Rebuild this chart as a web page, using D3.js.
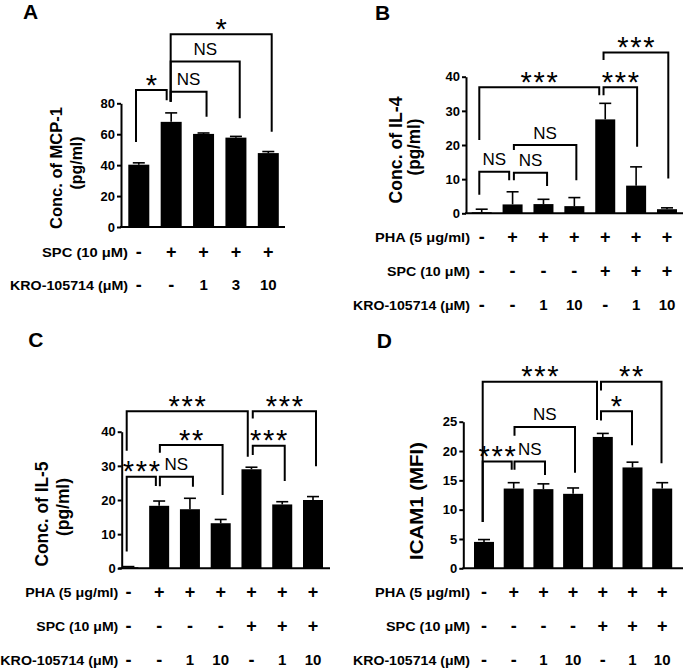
<!DOCTYPE html>
<html><head><meta charset="utf-8">
<script src="https://cdn.jsdelivr.net/npm/d3@7"></script>
<style>
body{margin:0;background:#fff}
svg{display:block}
text{font-family:"Liberation Sans",Arial,Helvetica,sans-serif}
</style>
</head><body>
<svg id="chart" width="685" height="670"></svg>
<script>
// ---------------- data ----------------
// Panel A : MCP-1
const aSPC = ['-','+','+','+','+'];
const aKRO = ['-','-','1','3','10'];
const mcp1Mean = [40.3, 68.0, 60.2, 57.8, 47.8];
const mcp1Sem  = [1.2, 5.8, 0.6, 0.8, 1.0];
const mcp1Ticks = [0, 20, 40, 60, 80];

// Panels B-D : treatment rows
const pha = ['-','+','+','+','+','+','+'];
const spc = ['-','-','-','-','+','+','+'];
const kro = ['-','-','1','10','-','1','10'];

const il4Mean = [0.3, 2.6, 2.7, 2.1, 27.5, 8.1, 1.2];
const il4Sem  = [0.9, 3.7, 1.4, 2.5, 4.7, 5.5, 0.4];
const il4Ticks = [0, 10, 20, 30, 40];

const il5Mean = [0.3, 18.3, 17.3, 13.2, 29.0, 18.7, 20.0];
const il5Sem  = [0.2, 1.4, 3.2, 1.1, 0.6, 0.8, 1.0];
const il5Ticks = [0, 10, 20, 30, 40];

const icamMean = [4.5, 13.6, 13.5, 12.7, 22.4, 17.2, 13.6];
const icamSem  = [0.4, 1.0, 0.9, 1.0, 0.6, 0.9, 1.0];
const icamTicks = [0, 5, 10, 15, 20, 25];

// significance comparisons: [from bar, to bar, bracket height, leg end at "from", leg end at "to", label] (data units)
const sigA = [[0,1,88.6,55,82,'*'],[1,2,87.5,81,71.3,'NS'],[1,3,107,81,70.3,'NS'],[1,4,124.6,81,61.6,'*']];
const sigB = [[0,4,36.9,21.5,34.6,'***'],[4,5,36.9,34.6,19.5,'***'],[4,6,47.1,44.9,10.2,'***'],
              [0,1,12.2,5.4,9.7,'NS'],[1,2,11.9,9.7,8.0,'NS'],[1,3,20.0,18.5,9.7,'NS']];
const sigC = [[0,4,46.0,34.4,32.7,'***'],[4,6,46.0,43.9,29.9,'***'],[1,3,36.1,33.8,21.5,'**'],
              [4,5,35.9,33.2,25.6,'***'],[0,1,26.8,4.9,24.1,'***'],[1,2,26.8,24.0,23.9,'NS']];
const sigD = [[0,4,31.8,7.9,25.3,'***'],[4,6,31.8,30.3,17.9,'**'],[4,5,26.8,25.2,21.0,'*'],
              [1,3,24.1,22.6,16.3,'NS'],[0,1,18.2,7.9,16.8,'***'],[1,2,18.2,16.8,15.9,'NS']];

// ---------------- layout ----------------
const panels = [
  {letter:'A', lx:23, ly:18.5, axisX:121, axisEnd:285, y0:227, yTop:103.3, yMax:80, ticks:mcp1Ticks,
   c0:138.8, c1:268.3, bw:21, mean:mcp1Mean, sem:mcp1Sem, sig:sigA,
   legDx:[[-2.8,-4.5],[-0.5,3],[-0.5,3.8],[-0.5,3.4]],
   titleSize:16.5, titles:[{t:'Conc. of MCP-1',x:56,y:168,len:122},{t:'(pg/ml)',x:76,y:163,len:53}],
   labelRight:128, rows:[{label:'SPC (10 μM)',vals:aSPC,y:252,len:86},{label:'KRO-105714 (μM)',vals:aKRO,y:285,len:118}]},
  {letter:'B', lx:375, ly:20, axisX:466, axisEnd:683, y0:213.3, yTop:76.7, yMax:40, ticks:il4Ticks,
   c0:481.7, c1:667, bw:20, mean:il4Mean, sem:il4Sem, sig:sigB,
   legDx:[[-2.4,-6],[-1.7,1],[-1.7,1.3],[-2.4,-3.4],[1.3,3.6],[1.3,2]],
   titleSize:17.5, titles:[{t:'Conc. of IL-4',x:396,y:150,len:107},{t:'(pg/ml)',x:414,y:147,len:57}],
   labelRight:470, rows:[{label:'PHA (5 μg/ml)',vals:pha,y:237,len:95},{label:'SPC (10 μM)',vals:spc,y:271,len:83},{label:'KRO-105714 (μM)',vals:kro,y:305,len:117}]},
  {letter:'C', lx:28.3, ly:346.7, axisX:121.7, axisEnd:330, y0:568.3, yTop:431.7, yMax:40, ticks:il5Ticks,
   c0:128.4, c1:313, bw:20, mean:il5Mean, sem:il5Sem, sig:sigC,
   legDx:[[-1.7,-3.7],[1.3,3],[0.7,1.9],[1.3,2.5],[-1.7,-3.3],[0.7,3]],
   titleSize:17.5, titles:[{t:'Conc. of IL-5',x:42,y:514,len:105},{t:'(pg/ml)',x:62.5,y:507,len:58}],
   labelRight:118.3, rows:[{label:'PHA (5 μg/ml)',vals:pha,y:592,len:93},{label:'SPC (10 μM)',vals:spc,y:626,len:82},{label:'KRO-105714 (μM)',vals:kro,y:660,len:118}]},
  {letter:'D', lx:376.7, ly:348.3, axisX:463.3, axisEnd:683, y0:568.3, yTop:421.7, yMax:25, ticks:icamTicks,
   c0:484, c1:662.2, bw:20, mean:icamMean, sem:icamSem, sig:sigD,
   legDx:[[-1.3,-5.8],[-1.8,-0.7],[-1.8,-0.5],[0.8,1.9],[-1.3,-2],[0.8,1.6]],
   titleSize:18, titles:[{t:'ICAM1 (MFI)',x:416.7,y:501,len:118}],
   labelRight:470, rows:[{label:'PHA (5 μg/ml)',vals:pha,y:592,len:95},{label:'SPC (10 μM)',vals:spc,y:626,len:84},{label:'KRO-105714 (μM)',vals:kro,y:660,len:117}]}
];

const svg = d3.select('#chart');

function drawPanel(p){
  const g = svg.append('g');
  const n = p.mean.length;
  const x = d3.scalePoint().domain(d3.range(n)).range([p.c0, p.c1]);
  const y = d3.scaleLinear().domain([0, p.yMax]).range([p.y0, p.yTop]);

  // panel letter
  g.append('text').attr('x', p.lx).attr('y', p.ly).attr('font-size', 21).attr('font-weight', 'bold').text(p.letter);

  // bars
  g.selectAll('rect.bar').data(p.mean).join('rect').attr('class','bar')
    .attr('x', (d,i) => x(i) - p.bw/2).attr('y', d => y(d))
    .attr('width', p.bw).attr('height', d => y(0) - y(d)).attr('fill', '#000');

  // error bars (upper)
  const eb = g.selectAll('g.err').data(p.mean).join('g').attr('class','err');
  eb.append('line').attr('x1',(d,i)=>x(i)).attr('x2',(d,i)=>x(i))
    .attr('y1', d => y(d)).attr('y2',(d,i)=>y(d + p.sem[i])).attr('stroke','#000').attr('stroke-width',1.6);
  eb.append('line').attr('x1',(d,i)=>x(i)-6).attr('x2',(d,i)=>x(i)+6)
    .attr('y1',(d,i)=>y(d + p.sem[i])).attr('y2',(d,i)=>y(d + p.sem[i])).attr('stroke','#000').attr('stroke-width',1.6);

  // y axis
  const ya = g.append('g').attr('transform', `translate(${p.axisX},0)`)
    .call(d3.axisLeft(y).tickValues(p.ticks).tickSize(4).tickSizeOuter(0).tickPadding(2));
  ya.select('.domain').attr('stroke','#000').attr('stroke-width',2);
  ya.selectAll('.tick line').attr('stroke','#000').attr('stroke-width',2);
  ya.selectAll('.tick text').attr('font-size',13).attr('font-weight','bold')
    .attr('font-family','"Liberation Sans",Arial,sans-serif').attr('fill','#000');

  // x axis line
  const xl = d3.scaleLinear().domain([0,1]).range([p.axisX, p.axisEnd]);
  g.append('line').attr('x1', xl(0) - 1).attr('x2', xl(1)).attr('y1', y(0)).attr('y2', y(0))
    .attr('stroke','#000').attr('stroke-width',2);

  // y titles
  p.titles.forEach(t => {
    g.append('text').attr('transform', `translate(${t.x},${t.y}) rotate(-90)`)
      .attr('text-anchor','middle').attr('dominant-baseline','central')
      .attr('font-size', p.titleSize).attr('font-weight','bold')
      .attr('textLength', t.len).attr('lengthAdjust','spacingAndGlyphs').text(t.t);
  });

  // significance brackets
  p.sig.forEach((s, k) => {
    const [a, b, top, ba, bb, label] = s;
    const xa = x(a) + p.legDx[k][0], xb = x(b) + p.legDx[k][1];
    g.append('path').attr('d', `M${xa},${y(ba)}V${y(top)}H${xb}V${y(bb)}`)
      .attr('fill','none').attr('stroke','#000').attr('stroke-width',2).attr('stroke-linejoin','miter');
    const mx = (xa + xb) / 2;
    if (label === 'NS') {
      g.append('text').attr('x', mx).attr('y', y(top) - 6.5).attr('text-anchor','middle')
        .attr('font-size', 17).text(label);
    } else {
      const stars = label.split('');
      const pitch = 13;
      const t = g.append('text').attr('font-size', 29).attr('text-anchor','middle');
      stars.forEach((c, i) => {
        t.append('tspan').attr('x', mx + (i - (stars.length - 1) / 2) * pitch)
          .attr('y', y(top) + 4.5).text(c);
      });
    }
  });

  // treatment rows
  p.rows.forEach(r => {
    g.append('text').attr('x', p.labelRight).attr('y', r.y + 4.8).attr('text-anchor','end')
      .attr('font-size', 13.5).attr('font-weight','bold')
      .attr('textLength', r.len).attr('lengthAdjust','spacingAndGlyphs').text(r.label);
    g.selectAll(null).data(r.vals).join('text')
      .attr('x', (d,i) => x(i)).attr('y', d => r.y + (d === '-' || d === '+' ? 5.8 : 5.3))
      .attr('text-anchor','middle')
      .attr('font-size', d => (d === '-' || d === '+') ? 18 : 15).attr('font-weight','bold').text(d => d);
  });
}

panels.forEach(drawPanel);
</script>
</body></html>
